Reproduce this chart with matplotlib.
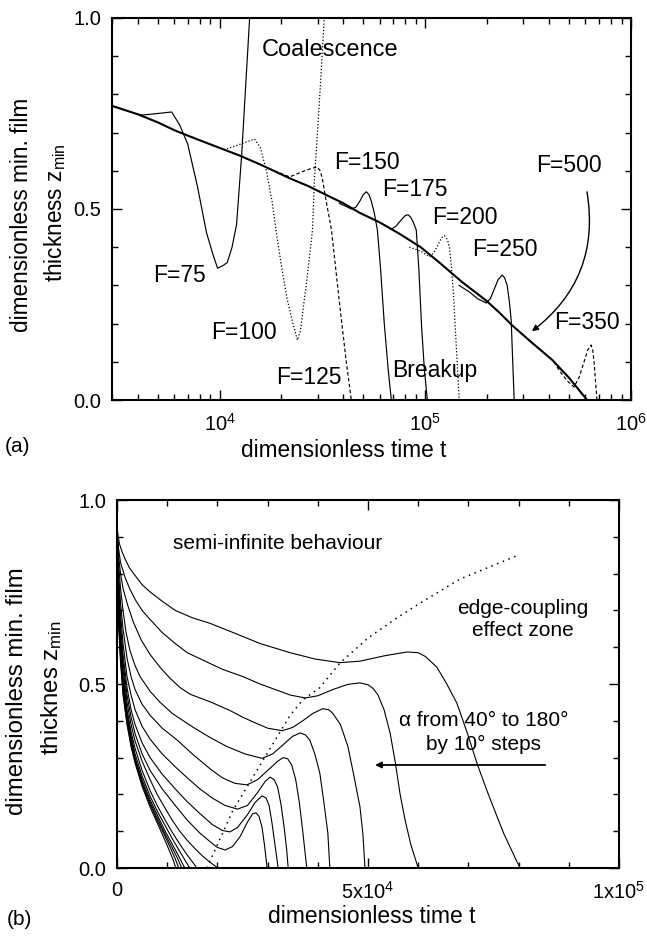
import matplotlib
matplotlib.use('Agg')
import matplotlib.pyplot as plt
from matplotlib.ticker import (LogLocator, NullFormatter, FixedLocator,
                               MultipleLocator, FixedFormatter, FormatStrFormatter)

plt.rcParams['font.family'] = ['Liberation Sans', 'DejaVu Sans']
plt.rcParams['mathtext.fontset'] = 'custom'
plt.rcParams['mathtext.rm'] = 'Liberation Sans'
plt.rcParams['mathtext.it'] = 'Liberation Sans'
plt.rcParams['mathtext.bf'] = 'Liberation Sans:bold'

# ---------------- panel (a) data ----------------
base_t = [3000, 4000, 5000, 6100, 8000, 10000, 12500, 16000, 22000, 27000, 33500, 40000, 48000,
          60000, 75000, 95000, 117000, 150000, 198000, 230000, 265000, 330000, 414000, 500000, 612000]
base_z = [0.77, 0.748, 0.727, 0.705, 0.68, 0.66, 0.64, 0.615, 0.58, 0.56, 0.535, 0.515, 0.49,
          0.465, 0.435, 0.40, 0.36, 0.31, 0.26, 0.228, 0.195, 0.15, 0.105, 0.058, 0.0]

f75_t = [4000, 4230, 5000, 5850, 6400, 7000, 7800, 8650, 9300, 9780, 10400, 10900, 11500, 12100, 12800, 14000]
f75_z = [0.748, 0.746, 0.75, 0.754, 0.72, 0.67, 0.56, 0.437, 0.38, 0.345, 0.352, 0.36, 0.40, 0.46, 0.64, 1.0]

f100_t = [10500, 13000, 14800, 15800, 16900, 18000, 18900, 20000, 21200, 22500, 23900, 24700,
          26500, 28300, 28900, 30600, 32300]
f100_z = [0.655, 0.672, 0.683, 0.66, 0.60, 0.52, 0.437, 0.35, 0.27, 0.21, 0.157, 0.18,
          0.31, 0.445, 0.576, 0.785, 1.0]

f125_t = [18500, 21900, 25900, 28300, 29900, 30800, 31600, 33000, 35000, 37000, 39100, 41300, 43700]
f125_z = [0.60, 0.584, 0.60, 0.607, 0.61, 0.60, 0.58, 0.52, 0.445, 0.326, 0.21, 0.10, 0.0]

f150_t = [38200, 43700, 46000, 48000, 50000, 51700, 53200, 54700, 56500, 58500, 60500, 63200, 66000, 68400]
f150_z = [0.515, 0.50, 0.505, 0.52, 0.538, 0.545, 0.538, 0.52, 0.49, 0.445, 0.35, 0.20, 0.08, 0.0]

f175_t = [59800, 68400, 72000, 76000, 80000, 82500, 85000, 87500, 90400, 93000, 96000, 99000, 102300]
f175_z = [0.465, 0.447, 0.455, 0.47, 0.483, 0.485, 0.478, 0.465, 0.445, 0.345, 0.19, 0.08, 0.0]

f200_t = [83600, 95000, 104600, 110000, 115000, 120000, 124000, 128000, 131000, 134000, 137000,
          140000, 143000, 146200]
f200_z = [0.40, 0.39, 0.375, 0.385, 0.405, 0.425, 0.43, 0.42, 0.40, 0.35, 0.28,
          0.185, 0.095, 0.0]

f250_t = [146000, 163600, 180000, 197800, 207000, 216300, 226000, 236500, 243000, 250000, 256000,
          261600, 264000, 267000, 270400]
f250_z = [0.30, 0.283, 0.265, 0.254, 0.265, 0.29, 0.315, 0.327, 0.32, 0.30, 0.26,
          0.209, 0.15, 0.08, 0.0]

f350_t = [422700, 447300, 490000, 528700, 560000, 591600, 615000, 639700, 652000, 661300, 672000, 683800]
f350_z = [0.10, 0.078, 0.05, 0.034, 0.06, 0.10, 0.13, 0.144, 0.13, 0.10, 0.05, 0.0]

# ---------------- panel (b) data ----------------
alpha_deg = [180, 170, 160, 150, 140, 130, 120, 110, 100, 90, 80, 70, 60, 50, 40]

t_a180 = [0, 100, 200, 500, 1000, 1600, 2500, 3600, 5000, 6600, 9000, 11600, 15000, 18500, 23100,
          28500, 34500, 39400, 44400, 48400, 53400, 57800, 60000, 61400, 62600, 63700, 65700,
          67700, 69700, 71700, 73700, 75700, 77000, 78300, 79400, 80300]
z_a180 = [0.93, 0.915, 0.905, 0.88, 0.86, 0.84, 0.815, 0.795, 0.77, 0.75, 0.725, 0.70, 0.68, 0.665, 0.64,
          0.61, 0.585, 0.568, 0.558, 0.562, 0.577, 0.587, 0.585, 0.575, 0.56, 0.546, 0.50,
          0.448, 0.37, 0.285, 0.21, 0.14, 0.095, 0.057, 0.025, 0.0]

t_a170 = [0, 100, 300, 700, 1600, 2500, 3600, 5000, 6600, 9000, 11600, 14000, 17100, 21000, 25100,
          28500, 31500, 34500, 37500, 40000, 43000, 46000, 48400, 50000, 51000, 52000, 53200,
          54400, 55400, 56400, 57400, 58500, 60000]
z_a170 = [0.93, 0.905, 0.87, 0.83, 0.79, 0.76, 0.73, 0.70, 0.675, 0.64, 0.61, 0.585, 0.565, 0.54, 0.52,
          0.50, 0.485, 0.47, 0.462, 0.468, 0.485, 0.499, 0.503, 0.498, 0.488, 0.47, 0.43,
          0.367, 0.29, 0.20, 0.13, 0.065, 0.0]

t_a160 = [0, 100, 300, 700, 1200, 2000, 3200, 4800, 6600, 8600, 10600, 12600, 14600, 16500, 18500,
          20500, 22500, 25000, 27100, 30000, 32900, 35000, 37000, 39000, 41000, 42200, 43000,
          44500, 46000, 47200, 48400, 49000, 49400]
z_a160 = [0.93, 0.90, 0.85, 0.80, 0.76, 0.72, 0.67, 0.62, 0.58, 0.545, 0.515, 0.49, 0.472, 0.462, 0.452,
          0.44, 0.428, 0.41, 0.397, 0.38, 0.373, 0.382, 0.40, 0.42, 0.433, 0.43, 0.42,
          0.39, 0.33, 0.25, 0.166, 0.09, 0.0]

t_a150 = [0, 100, 300, 700, 1200, 1800, 2600, 3600, 4600, 6600, 8600, 11000, 15100, 18500, 21900,
          25500, 28900, 31000, 33100, 35000, 36500, 37500, 38400, 39400, 40400, 41200, 42000, 42400]
z_a150 = [0.93, 0.89, 0.83, 0.76, 0.70, 0.64, 0.59, 0.55, 0.52, 0.48, 0.45, 0.42, 0.383, 0.355, 0.33,
          0.31, 0.298, 0.31, 0.335, 0.358, 0.367, 0.362, 0.348, 0.31, 0.258, 0.18, 0.095, 0.0]

t_a140 = [0, 100, 300, 700, 1200, 2000, 2800, 3600, 5000, 6600, 9000, 11950, 15000, 18500, 21000,
          23500, 25900, 28000, 30000, 32000, 33100, 34000, 34800, 35600, 36300, 37000, 37800]
z_a140 = [0.93, 0.88, 0.80, 0.72, 0.65, 0.57, 0.52, 0.485, 0.445, 0.415, 0.38, 0.348, 0.31, 0.27, 0.245,
          0.23, 0.226, 0.24, 0.265, 0.29, 0.30, 0.297, 0.28, 0.24, 0.18, 0.10, 0.0]

t_a130 = [0, 100, 300, 700, 1200, 2000, 2800, 3600, 5000, 6600, 9000, 11600, 14000, 16500, 19000,
          21500, 24000, 26000, 28000, 29500, 30500, 31300, 32000, 32700, 33300, 33800, 34100]
z_a130 = [0.93, 0.87, 0.78, 0.69, 0.61, 0.52, 0.47, 0.43, 0.385, 0.35, 0.31, 0.275, 0.245, 0.215, 0.19,
          0.17, 0.16, 0.17, 0.205, 0.235, 0.247, 0.24, 0.22, 0.17, 0.11, 0.05, 0.0]

t_a120 = [0, 100, 300, 700, 1200, 2000, 2800, 3600, 5000, 6600, 9000, 11600, 14000, 16500, 19000,
          21000, 22500, 24000, 26000, 27500, 28900, 29700, 30300, 30900, 31500, 32100]
z_a120 = [0.93, 0.86, 0.76, 0.66, 0.58, 0.49, 0.43, 0.39, 0.34, 0.30, 0.255, 0.215, 0.18, 0.148, 0.118,
          0.102, 0.098, 0.11, 0.145, 0.178, 0.196, 0.19, 0.17, 0.12, 0.06, 0.0]

t_a110 = [0, 100, 300, 700, 1200, 2000, 2800, 3600, 5000, 6600, 9000, 11600, 14000, 16500, 18500,
          20000, 21500, 23000, 24500, 26000, 27000, 27700, 28300, 28900, 29400, 29900]
z_a110 = [0.93, 0.85, 0.75, 0.64, 0.56, 0.47, 0.41, 0.365, 0.31, 0.265, 0.215, 0.17, 0.13, 0.095, 0.072,
          0.056, 0.049, 0.058, 0.085, 0.125, 0.147, 0.15, 0.14, 0.11, 0.06, 0.0]

t_a100 = [0, 100, 300, 700, 1200, 2000, 2800, 3600, 5000, 6600, 8000, 9600, 11000, 12500, 14000,
          15500, 17000, 18500, 20100]
z_a100 = [0.93, 0.84, 0.73, 0.62, 0.54, 0.45, 0.39, 0.345, 0.29, 0.24, 0.20, 0.162, 0.13, 0.10, 0.075,
          0.053, 0.033, 0.016, 0.0]

t_a90 = [0, 100, 300, 700, 1200, 2000, 2800, 3600, 5000, 6600, 8000, 9600, 11000, 12500, 14000, 15000, 15900]
z_a90 = [0.93, 0.83, 0.72, 0.61, 0.52, 0.43, 0.37, 0.325, 0.265, 0.21, 0.17, 0.13, 0.097, 0.065, 0.035, 0.017, 0.0]

t_a80 = [0, 100, 300, 700, 1200, 2000, 2800, 3600, 5000, 6600, 8000, 9600, 11000, 12500, 13600, 14500]
z_a80 = [0.93, 0.82, 0.71, 0.60, 0.51, 0.42, 0.36, 0.31, 0.25, 0.195, 0.155, 0.115, 0.08, 0.045, 0.02, 0.0]

t_a70 = [0, 100, 300, 700, 1200, 2000, 2800, 3600, 5000, 6600, 8000, 9600, 11000, 12300, 13500]
z_a70 = [0.93, 0.81, 0.70, 0.59, 0.50, 0.41, 0.35, 0.30, 0.24, 0.185, 0.145, 0.10, 0.065, 0.032, 0.0]

t_a60 = [0, 100, 300, 700, 1200, 2000, 2800, 3600, 5000, 6600, 8000, 9600, 11000, 12000, 12900]
z_a60 = [0.93, 0.80, 0.69, 0.58, 0.49, 0.40, 0.34, 0.295, 0.233, 0.178, 0.137, 0.092, 0.055, 0.028, 0.0]

t_a50 = [0, 100, 300, 700, 1200, 2000, 2800, 3600, 5000, 6600, 8000, 9600, 10800, 11600, 12300]
z_a50 = [0.93, 0.79, 0.68, 0.57, 0.48, 0.395, 0.335, 0.29, 0.227, 0.172, 0.13, 0.085, 0.05, 0.025, 0.0]

t_a40 = [0, 100, 300, 700, 1200, 2000, 2800, 3600, 5000, 6600, 8000, 9400, 10500, 11200, 11700]
z_a40 = [0.93, 0.78, 0.67, 0.56, 0.47, 0.39, 0.33, 0.285, 0.222, 0.165, 0.123, 0.08, 0.045, 0.022, 0.0]

edge_t = [17900, 23100, 29100, 34500, 37000, 40400, 44400, 50000, 55800, 60400, 68300, 79900]
edge_z = [0.0, 0.157, 0.293, 0.415, 0.457, 0.49, 0.557, 0.625, 0.68, 0.72, 0.785, 0.85]

b_xticks = [0, 50000, 100000]
b_xticklabels = ['0', r'$\mathregular{5x10^{4}}$', r'$\mathregular{1x10^{5}}$']
yticks = [0.0, 0.5, 1.0]

# ---------------- figure ----------------
W, H = 647, 938
fig = plt.figure(figsize=(W / 100, H / 100), dpi=100)


def px_axes(l, t, r, b):
    return [l / W, 1 - b / H, (r - l) / W, (b - t) / H]


def fx(x):
    return x / W


def fy(y):
    return 1 - y / H


axA = fig.add_axes(px_axes(112, 18, 631, 400))
axB = fig.add_axes(px_axes(117, 500, 619, 868))

thin = 0.85
dotted = (0, (1, 1.6))
dashed = (0, (3, 2))

axA.plot(f75_t, f75_z, '-', color='k', lw=thin)
axA.plot(f100_t, f100_z, linestyle=dotted, color='k', lw=0.9)
axA.plot(f125_t, f125_z, linestyle=dashed, color='k', lw=thin)
axA.plot(f150_t, f150_z, '-', color='k', lw=thin)
axA.plot(f175_t, f175_z, '-', color='k', lw=thin)
axA.plot(f200_t, f200_z, linestyle=dotted, color='k', lw=0.9)
axA.plot(f250_t, f250_z, '-', color='k', lw=thin)
axA.plot(f350_t, f350_z, linestyle=dashed, color='k', lw=thin)
axA.plot(base_t, base_z, '-', color='k', lw=1.5)

axA.set_xscale('log')
axA.set_xlim(3000, 1e6)
axA.set_ylim(0, 1)
axA.xaxis.set_major_locator(LogLocator(base=10))
axA.xaxis.set_minor_locator(LogLocator(base=10, subs=range(2, 10)))
axA.xaxis.set_minor_formatter(NullFormatter())
axA.yaxis.set_major_locator(FixedLocator(yticks))
axA.yaxis.set_major_formatter(FormatStrFormatter('%.1f'))
axA.yaxis.set_minor_locator(MultipleLocator(0.1))

tsize = 16.5
axA.text(16000, 0.916, 'Coalescence', fontsize=17, ha='left', va='center')
axA.text(36160, 0.623, 'F=150', fontsize=tsize, ha='left', va='center')
axA.text(61840, 0.55, 'F=175', fontsize=tsize, ha='left', va='center')
axA.text(108100, 0.479, 'F=200', fontsize=tsize, ha='left', va='center')
axA.text(345800, 0.615, 'F=500', fontsize=tsize, ha='left', va='center')
axA.text(169000, 0.393, 'F=250', fontsize=tsize, ha='left', va='center')
axA.text(422700, 0.2016, 'F=350', fontsize=tsize, ha='left', va='center')
axA.text(69150, 0.0785, 'Breakup', fontsize=tsize, ha='left', va='center')
axA.text(18910, 0.06, 'F=125', fontsize=tsize, ha='left', va='center')
axA.text(9146, 0.178, 'F=100', fontsize=tsize, ha='left', va='center')
axA.text(4729, 0.327, 'F=75', fontsize=tsize, ha='left', va='center')
axA.annotate('', xy=(330000, 0.18), xytext=(611000, 0.545),
             arrowprops=dict(arrowstyle='-|>', connectionstyle='arc3,rad=-0.3',
                             lw=1.0, color='k', mutation_scale=9,
                             shrinkA=0, shrinkB=0))

# panel (b)
b_curves = [(t_a180, z_a180), (t_a170, z_a170), (t_a160, z_a160), (t_a150, z_a150),
            (t_a140, z_a140), (t_a130, z_a130), (t_a120, z_a120), (t_a110, z_a110),
            (t_a100, z_a100), (t_a90, z_a90), (t_a80, z_a80), (t_a70, z_a70),
            (t_a60, z_a60), (t_a50, z_a50), (t_a40, z_a40)]
for (tt, zz), a in zip(b_curves, alpha_deg):
    axB.plot(tt, zz, '-', color='k', lw=0.8)
axB.plot(edge_t, edge_z, linestyle=(0, (1, 3)), color='k', lw=1.1)

axB.set_xlim(0, 100000)
axB.set_ylim(0, 1)
axB.xaxis.set_major_locator(FixedLocator(b_xticks))
axB.xaxis.set_major_formatter(FixedFormatter(b_xticklabels))
axB.xaxis.set_minor_locator(MultipleLocator(10000))
axB.yaxis.set_major_locator(FixedLocator(yticks))
axB.yaxis.set_major_formatter(FormatStrFormatter('%.1f'))
axB.yaxis.set_minor_locator(MultipleLocator(0.1))

axB.text(11150, 0.883, 'semi-infinite behaviour', fontsize=15, ha='left', va='center')
axB.text(80900, 0.675, 'edge-coupling\neffect zone', fontsize=15, ha='center',
         va='center', multialignment='center')
axB.text(73100, 0.368, '\u03b1 from 40\u00b0 to 180\u00b0\nby 10\u00b0 steps', fontsize=15,
         ha='center', va='center', multialignment='center', linespacing=1.3)
axB.annotate('', xy=(51400, 0.28), xytext=(85300, 0.28),
             arrowprops=dict(arrowstyle='-|>', lw=1.3, color='k', mutation_scale=9,
                             shrinkA=0, shrinkB=0))

for ax in (axA, axB):
    ax.tick_params(which='both', direction='in', top=True, right=True, labelsize=14.5,
                   width=1.0)
    ax.tick_params(which='major', length=7)
    ax.tick_params(which='minor', length=4)
    ax.tick_params(axis='x', which='both', pad=9)
    ax.tick_params(axis='y', which='both', pad=8)
    for s in ax.spines.values():
        s.set_linewidth(1.5)

# labels
fig.text(fx(344), fy(450), 'dimensionless time t', fontsize=16.3, ha='center', va='center')
fig.text(fx(22), fy(215), 'dimensionless min. film', fontsize=16.3, rotation=90,
         ha='center', va='center')
fig.text(fx(55), fy(213), r'thickness $\mathregular{z_{min}}$', fontsize=16.3, rotation=90,
         ha='center', va='center')
fig.text(fx(18), fy(447), '(a)', fontsize=15, ha='center', va='center')

fig.text(fx(372), fy(916), 'dimensionless time t', fontsize=16.5, ha='center', va='center')
fig.text(fx(17), fy(691), 'dimensionless min. film', fontsize=17.3, rotation=90,
         ha='center', va='center')
fig.text(fx(52), fy(688), r'thicknes $\mathregular{z_{min}}$', fontsize=17.3, rotation=90,
         ha='center', va='center')
fig.text(fx(19), fy(919), '(b)', fontsize=15, ha='center', va='center')

fig.savefig('out.png', dpi=100)
